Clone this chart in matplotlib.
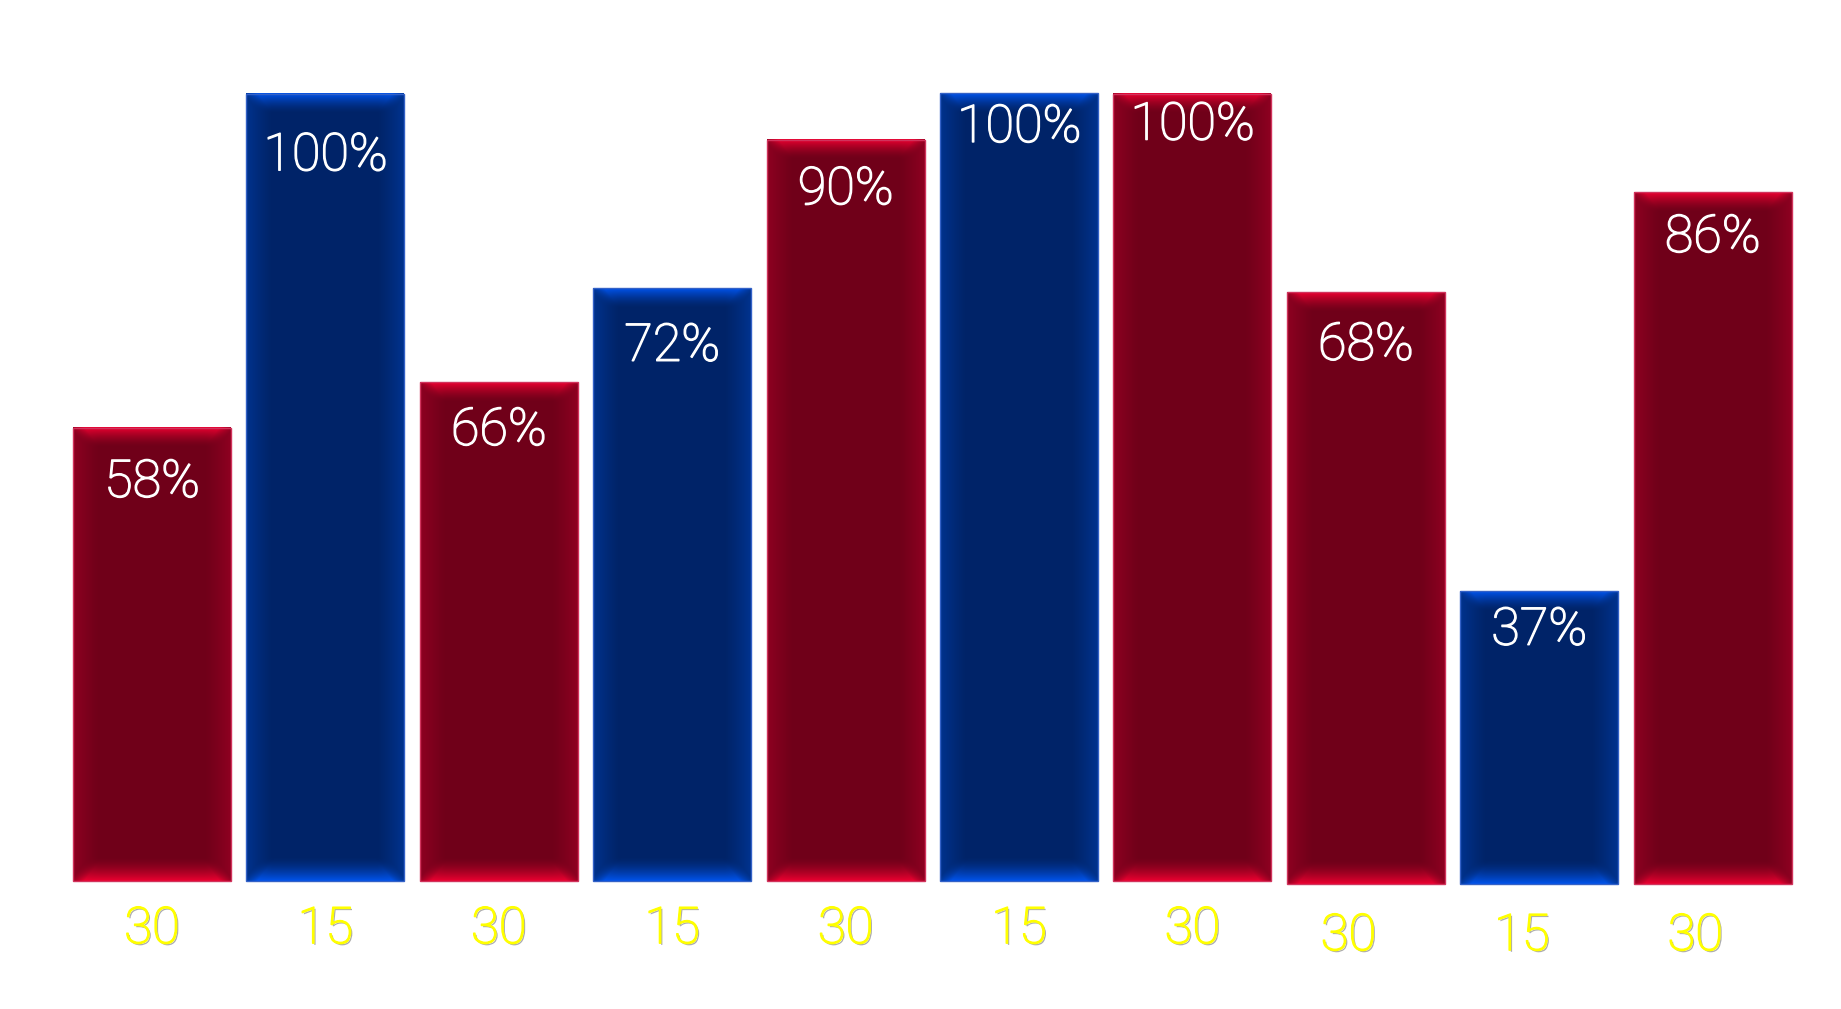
import numpy as np
import matplotlib.pyplot as plt
from matplotlib import patheffects
from matplotlib.patches import Rectangle

# values
categories = ['30', '15', '30', '15', '30', '15', '30', '30', '15', '30']
heights = [57.6, 100, 63.4, 75.3, 94.2, 100.1, 100, 75.2, 37.2, 87.9]
pct_labels = ['58%', '100%', '66%', '72%', '90%', '100%', '100%', '68%', '37%', '86%']
label_base = [48.8, 90.3, 55.4, 66.1, 86.0, 93.9, 94.2, 66.6, 30.4, 80.3]
kinds = ['r', 'b', 'r', 'b', 'r', 'b', 'r', 'r', 'b', 'r']

PALETTE = {
    'r': dict(center=(0.44, 0.0, 0.10), edge=(0.93, 0.0, 0.19),
              side=(0.56, 0.0, 0.13), line=(0.82, 0.20, 0.36)),
    'b': dict(center=(0.0, 0.14, 0.41), edge=(0.0, 0.33, 0.93),
              side=(0.0, 0.20, 0.56), line=(0.20, 0.38, 0.78)),
}

W, H, DPI = 1841, 1009, 100
XLIM = (-0.8766, 9.740)
YLIM = (-16.26, 111.94)
BAR_W = 0.911


def bar_image(h_px, w_px, pal):
    """Glossy bar fill: bright top/bottom strips, lighter sides, bevelled corners."""
    yy = np.arange(h_px)[:, None] + 0.5
    xx = np.arange(w_px)[None, :] + 0.5
    dt = np.broadcast_to(yy, (h_px, w_px))
    db = h_px - dt
    dside = np.broadcast_to(np.minimum(xx, w_px - xx), (h_px, w_px))
    # bright top and bottom, faded out diagonally at the corners
    top = np.clip(1 - dt / 20.0, 0, 1) ** 1.6 * np.clip((dside - 0.8 * dt) / 14 + 0.2, 0, 1)
    bot = np.clip(1 - db / 24.0, 0, 1) ** 1.6 * np.clip((dside - 0.8 * db) / 14 + 0.2, 0, 1)
    v = np.maximum(top, bot)
    s = np.clip(1 - dside / 26.0, 0, 1) ** 1.2
    center = np.array(pal['center'])
    side = np.array(pal['side'])
    edge = np.array(pal['edge'])
    c = center * (1 - s)[..., None] + side * s[..., None]
    c = c * (1 - v)[..., None] + edge * v[..., None]
    return c


def main():
    plt.rcParams['font.family'] = ['Roboto', 'DejaVu Sans']
    fig = plt.figure(figsize=(W / DPI, H / DPI), dpi=DPI)
    ax = fig.add_axes([0, 0, 1, 1])
    ax.set_xlim(*XLIM)
    ax.set_ylim(*YLIM)
    ax.axis('off')

    px_x = W / (XLIM[1] - XLIM[0])
    px_y = H / (YLIM[1] - YLIM[0])

    for i, (cat, h, lab, ly, k) in enumerate(zip(categories, heights, pct_labels,
                                                  label_base, kinds)):
        pal = PALETTE[k]
        # the last three bars sit a few pixels lower in the reference
        bottom = -0.38 if i >= 7 else 0.0
        dx = -0.1 if i >= 7 else 0.0
        x0 = i - BAR_W / 2
        img = bar_image(max(int(round(h * px_y)), 2), int(round(BAR_W * px_x)), pal)
        ax.imshow(img, extent=[x0, x0 + BAR_W, bottom, bottom + h],
                  aspect='auto', interpolation='bilinear', zorder=2)
        ax.add_patch(Rectangle((x0, bottom), BAR_W, h, fill=False,
                               edgecolor=pal['line'], linewidth=1, zorder=3))
        t = ax.text(i, bottom + ly, lab, color='white', fontsize=37.5,
                    fontweight='light', ha='center', va='baseline', zorder=4)
        t.set_path_effects([patheffects.withStroke(linewidth=1.0, foreground='white')])
        t = ax.text(i + dx, bottom - 7.9 - (0.5 if i >= 7 else 0.0), cat,
                    color='#ffff00', fontsize=36.5, fontweight='light',
                    ha='center', va='baseline', zorder=4)
        t.set_path_effects([
            patheffects.withSimplePatchShadow(offset=(1.2, -1.2), shadow_rgbFace='#777777',
                                              alpha=0.6),
            patheffects.withStroke(linewidth=1.0, foreground='#ffff00')])

    ax.set_xlim(*XLIM)
    ax.set_ylim(*YLIM)
    fig.savefig('out.png', dpi=DPI, facecolor='white')


if __name__ == "__main__":
    main()
